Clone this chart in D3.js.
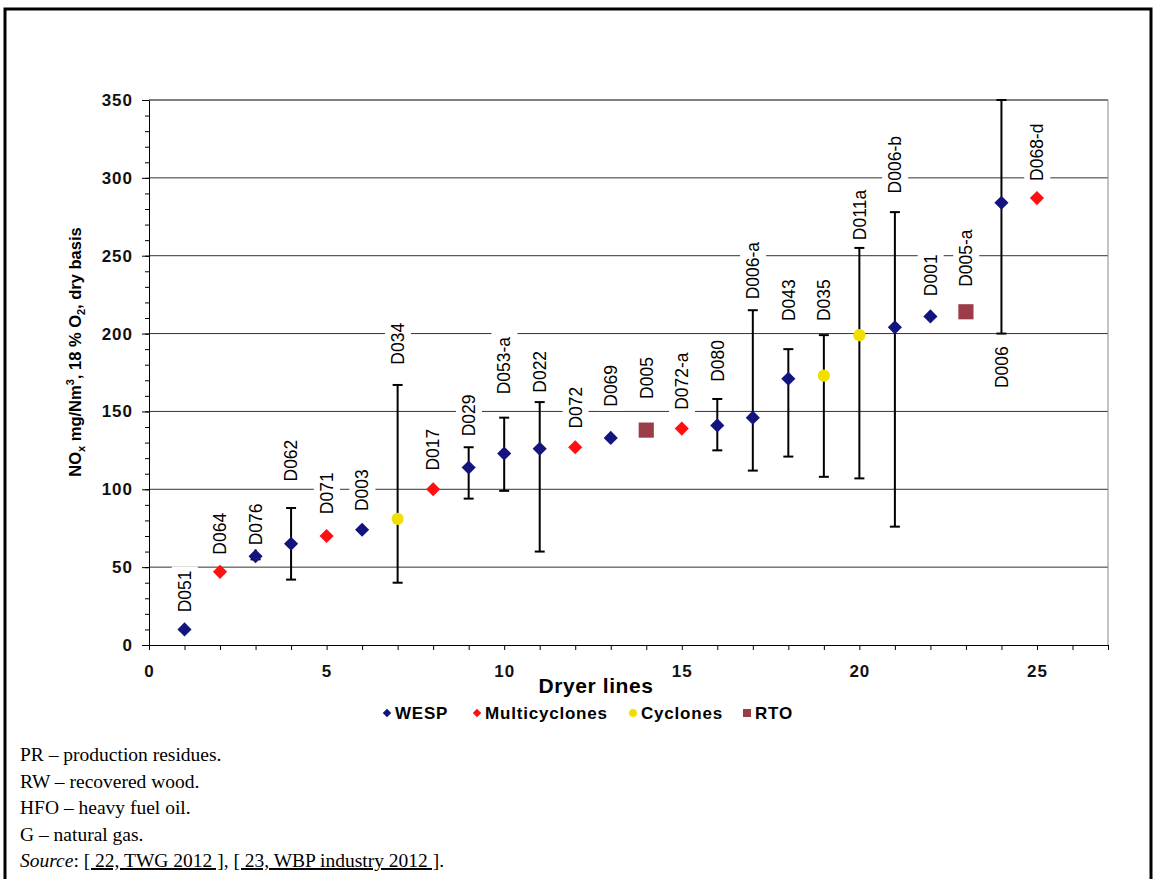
<!DOCTYPE html>
<html>
<head>
<meta charset="utf-8">
<script src="https://cdn.jsdelivr.net/npm/d3@7"></script>
<style>
  body { margin: 0; background: #fff; }
  svg { display: block; }
</style>
</head>
<body>
<div id="chart"></div>
<script>
"use strict";

// dryer lines
const lines = [1, 2, 3, 4, 5, 6, 7, 8, 9, 10, 11, 12, 13, 14, 15, 16, 17, 18, 19, 20, 21, 22, 23, 24, 25];
const names = ["D051", "D064", "D076", "D062", "D071", "D003", "D034", "D017", "D029", "D053-a",
    "D022", "D072", "D069", "D005", "D072-a", "D080", "D006-a", "D043", "D035", "D011a",
    "D006-b", "D001", "D005-a", "D006", "D068-d"];
const types = ["WESP", "Multicyclones", "WESP", "WESP", "Multicyclones", "WESP", "Cyclones",
    "Multicyclones", "WESP", "WESP", "WESP", "Multicyclones", "WESP", "RTO", "Multicyclones",
    "WESP", "WESP", "WESP", "Cyclones", "Cyclones", "WESP", "WESP", "RTO", "WESP", "Multicyclones"];
const values = [10, 47, 57, 65, 70, 74, 81, 100, 114, 123, 126, 127, 133, 138, 139, 141, 146,
    171, 173, 199, 204, 211, 214, 284, 287];
const errLow = [null, null, 55, 42, null, null, 40, null, 94, 99, 60, null, null, null, null,
    125, 112, 121, 108, 107, 76, null, null, 200, null];
const errHigh = [null, null, 64, 88, null, null, 167, null, 127, 146, 156, null, null, null, null,
    158, 215, 190, 199, 255, 278, null, null, 350, null];
// value at which each rotated label starts
const labelAt = [21, 58, 64, 105, 84, 86, 180, 112, 134, 161, 162, 139, 153, 158, 151, 169, 222,
    208, 208, 260, 290, 224, 230, 165, 298];

const legendItems = ["WESP", "Multicyclones", "Cyclones", "RTO"];
const yTicks = [0, 50, 100, 150, 200, 250, 300, 350];
const xTickLabels = [0, 5, 10, 15, 20, 25];

const colors = {
    WESP: "#14147e",
    Multicyclones: "#ff1010",
    Cyclones: "#f0e000",
    RTO: "#9b3d48"
};

const W = 1155, H = 879;
const svg = d3.select("#chart").append("svg")
    .attr("width", W)
    .attr("height", H);

const x = d3.scaleLinear().domain([0, 27]).range([149, 1108]);
const y = d3.scaleLinear().domain([0, 350]).range([645, 100]);

function marker(type, big) {
    if (type === "WESP" || type === "Multicyclones")
        return d3.symbol(d3.symbolSquare, big ? 100 : 36)();
    if (type === "Cyclones")
        return d3.symbol(d3.symbolCircle, big ? 115 : 50)();
    return d3.symbol(d3.symbolSquare, big ? 230 : 64)();
}
function rot(type) {
    return (type === "WESP" || type === "Multicyclones") ? " rotate(45)" : "";
}

// frame
svg.append("path")
    .attr("d", `M5,879 V9 H1151 V879`)
    .attr("fill", "none")
    .attr("stroke", "#000")
    .attr("stroke-width", 3);

// gridlines
svg.append("g").selectAll("line")
    .data(yTicks.slice(1))
    .join("line")
    .attr("x1", x(0)).attr("x2", x(27))
    .attr("y1", d => y(d)).attr("y2", d => y(d))
    .attr("stroke", d => d === 350 ? "#000" : "#333")
    .attr("stroke-width", 1);

svg.append("line")
    .attr("x1", x(27)).attr("x2", x(27))
    .attr("y1", y(350)).attr("y2", y(0))
    .attr("stroke", "#888");

// axes
svg.append("g")
    .attr("transform", `translate(${x(0)},0)`)
    .call(d3.axisLeft(y).tickValues(yTicks).tickSize(7).tickSizeOuter(0).tickPadding(9));
svg.append("g")
    .attr("transform", `translate(${x(0)},0)`)
    .call(d3.axisLeft(y).tickValues(d3.range(0, 351, 10)).tickSize(4).tickSizeOuter(0).tickFormat(""))
    .select(".domain").remove();

svg.append("g")
    .attr("transform", `translate(0,${y(0)})`)
    .call(d3.axisBottom(x).tickValues(d3.range(0, 28)).tickSize(5).tickSizeOuter(0).tickPadding(15)
        .tickFormat(d => xTickLabels.includes(d) ? d : ""));

svg.selectAll(".tick line, .domain").attr("stroke", "#000");
svg.selectAll(".tick text")
    .attr("font-family", "Liberation Sans, Arial, sans-serif")
    .attr("font-weight", "bold")
    .attr("font-size", 17)
    .attr("letter-spacing", 1)
    .attr("fill", "#111");

const pts = lines.map((d, i) => ({
    x: d, v: values[i], name: names[i], type: types[i],
    lo: errLow[i], hi: errHigh[i], lab: labelAt[i]
}));

// error bars
const eb = svg.append("g").attr("stroke", "#000").attr("stroke-width", 2);
pts.filter(d => d.lo !== null).forEach(d => {
    eb.append("line").attr("x1", x(d.x)).attr("x2", x(d.x)).attr("y1", y(d.lo)).attr("y2", y(d.hi));
    [d.lo, d.hi].forEach(e => {
        eb.append("line").attr("x1", x(d.x) - 5).attr("x2", x(d.x) + 5).attr("y1", y(e)).attr("y2", y(e));
    });
});

// labels with white boxes
const labels = svg.append("g");
pts.forEach(d => {
    const g = labels.append("g")
        .attr("transform", `translate(${x(d.x)},${y(d.lab)}) rotate(-90)`);
    const t = g.append("text")
        .attr("dy", "0.36em")
        .attr("font-family", "Liberation Sans, Arial, sans-serif")
        .attr("font-size", 17.5)
        .attr("fill", "#000")
        .text(d.name);
    const b = t.node().getBBox();
    g.insert("rect", "text")
        .attr("x", b.x - 4).attr("y", b.y - 3)
        .attr("width", b.width + 8).attr("height", b.height + 6)
        .attr("fill", "#fff");
});

// markers
svg.append("g").selectAll("path")
    .data(pts)
    .join("path")
    .attr("d", d => marker(d.type, true))
    .attr("transform", d => `translate(${x(d.x)},${y(d.v)})` + rot(d.type))
    .attr("fill", d => colors[d.type]);

// axis titles
svg.append("text")
    .attr("x", 596).attr("y", 693)
    .attr("text-anchor", "middle")
    .attr("font-family", "Liberation Sans, Arial, sans-serif")
    .attr("font-weight", "bold")
    .attr("font-size", 21)
    .attr("letter-spacing", 0.6)
    .text("Dryer lines");

const yt = svg.append("text")
    .attr("transform", "translate(81,352) rotate(-90)")
    .attr("text-anchor", "middle")
    .attr("font-family", "Liberation Sans, Arial, sans-serif")
    .attr("font-weight", "bold")
    .attr("font-size", 16.5);
yt.append("tspan").text("NO");
yt.append("tspan").attr("font-size", 11).attr("dy", 4).text("x");
yt.append("tspan").attr("dy", -4).text(" mg/Nm");
yt.append("tspan").attr("font-size", 11).attr("dy", -7).text("3");
yt.append("tspan").attr("dy", 7).text(", 18 % O");
yt.append("tspan").attr("font-size", 11).attr("dy", 4).text("2");
yt.append("tspan").attr("dy", -4).text(", dry basis");

// legend
const legendX = [387, 477, 633, 747];
const lg = svg.append("g");
legendItems.forEach((k, i) => {
    lg.append("path")
        .attr("d", marker(k, false))
        .attr("transform", `translate(${legendX[i]},713)` + rot(k))
        .attr("fill", colors[k]);
    lg.append("text")
        .attr("x", legendX[i] + 8).attr("y", 719)
        .attr("font-family", "Liberation Sans, Arial, sans-serif")
        .attr("font-weight", "bold")
        .attr("font-size", 17)
        .attr("letter-spacing", 0.8)
        .text(k);
});

// footnotes
const notes = ["PR \u2013 production residues.", "RW \u2013 recovered wood.",
    "HFO \u2013 heavy fuel oil.", "G \u2013 natural gas."];
const fn = svg.append("g")
    .attr("font-family", "Liberation Serif, Times New Roman, serif")
    .attr("font-size", 19.5);
notes.forEach((n, i) => {
    fn.append("text").attr("x", 20).attr("y", 761 + i * 26.5).text(n);
});
const src = fn.append("text").attr("x", 20).attr("y", 867);
src.append("tspan").attr("font-style", "italic").text("Source");
src.append("tspan").text(": ");
src.append("tspan").attr("text-decoration", "underline").text("[ 22, TWG 2012 ]");
src.append("tspan").text(", ");
src.append("tspan").attr("text-decoration", "underline").text("[ 23, WBP industry 2012 ]");
src.append("tspan").text(".");
</script>
</body>
</html>
